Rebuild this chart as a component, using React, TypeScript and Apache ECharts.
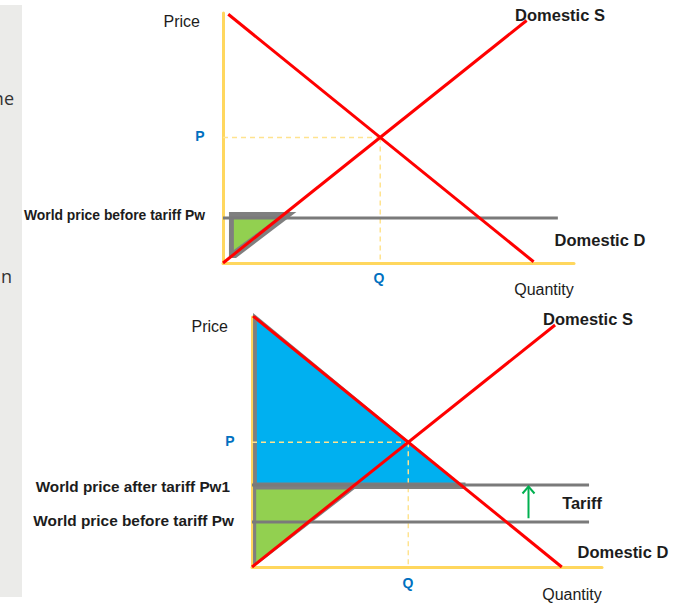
import React, { useEffect, useRef } from "react";
import * as echarts from "echarts";

// Both panels use the same 0–100 quantity / price scale.

// Upper panel: free trade at the world price
const topDemand = [[1.5, 99.5], [88.5, 0.5]];
const topSupply = [[0, 0], [86.5, 97]];
const topWorldPrice = 18;
const topWorldPriceEnd = 95.4;
const topSurplusShadow = [[1.7, 20.4], [20.9, 20.4], [3.7, 2.0], [1.7, 2.0]];
const topSurplusFill = [[3.1, 17.6], [15.1, 17.6], [3.1, 5.2]];

// Lower panel: after the tariff is imposed
const bottomDemand = [[0.3, 100.4], [88.5, 0]];
const bottomSupply = [[0, 0], [86.6, 96.8]];
const bottomWorldPrice = 18;
const bottomTariffPrice = 32.8;
const bottomPriceLineEnd = 96.3;
const consumerShadow = [[0.3, 101.6], [61.1, 31.6], [0.3, 31.6]];
const consumerFill = [[1.4, 98.4], [59.1, 33.6], [1.4, 33.6]];
const tariffBand = [[0.3, 33.8], [61, 33.8], [61, 31.2], [0.3, 31.2]];
const producerShadow = [[0.3, 31.4], [29.5, 31.4], [0.6, 0], [0.3, 0]];
const producerFill = [[1.2, 31.0], [27.7, 31.0], [1.2, 1.6]];
const tariffArrow = [[79, 19.5], [79, 32.2]];

const RED = "#ff0000";
const AXIS = "#ffd75e";
const DASH = "#ffe38f";
const GREY = "#7a7a7a";
const SHADOW = "#7f7f7f";
const BLUE_FILL = "#00b0f0";
const GREEN_FILL = "#92d050";
const LABEL_BLUE = "#0070c0";
const INK = "#1c1c1c";
const FONT = "'Liberation Sans', Arial, sans-serif";

type Pt = number[];

function intersect(a: Pt[], b: Pt[]): Pt {
  const [[x1, y1], [x2, y2]] = a;
  const [[x3, y3], [x4, y4]] = b;
  const d = (x1 - x2) * (y3 - y4) - (y1 - y2) * (x3 - x4);
  const t = ((x1 - x3) * (y3 - y4) - (y1 - y3) * (x3 - x4)) / d;
  return [x1 + t * (x2 - x1), y1 + t * (y2 - y1)];
}

function lineSeries(data: Pt[], color: string, width: number, grid: number, z: number, type: any = "solid") {
  return {
    type: "line",
    xAxisIndex: grid,
    yAxisIndex: grid,
    data,
    symbol: "none",
    silent: true,
    z,
    lineStyle: { color, width, type, cap: "butt" },
  };
}

function polygonSeries(points: Pt[], color: string, grid: number, z: number) {
  return {
    type: "custom",
    xAxisIndex: grid,
    yAxisIndex: grid,
    silent: true,
    clip: false,
    z,
    data: [points[0]],
    renderItem: (_params: any, api: any) => ({
      type: "polygon",
      shape: { points: points.map((p) => api.coord(p)) },
      style: { fill: color },
    }),
  };
}

function arrowSeries(points: Pt[], color: string, grid: number, z: number) {
  return {
    type: "custom",
    xAxisIndex: grid,
    yAxisIndex: grid,
    silent: true,
    clip: false,
    z,
    data: [points[0]],
    renderItem: (_params: any, api: any) => {
      const [x0, y0] = api.coord(points[0]);
      const [x1, y1] = api.coord(points[1]);
      return {
        type: "group",
        children: [
          {
            type: "line",
            shape: { x1: x0, y1: y0, x2: x1, y2: y1 },
            style: { stroke: color, lineWidth: 2 },
          },
          {
            type: "polyline",
            shape: { points: [[x1 - 6, y1 + 7], [x1, y1], [x1 + 6, y1 + 7]] },
            style: { stroke: color, lineWidth: 2, fill: "none" },
          },
        ],
      };
    },
  };
}

function axisPair(grid: number) {
  const common = {
    gridIndex: grid,
    type: "value",
    min: 0,
    max: 100,
    axisLine: { show: true, lineStyle: { color: AXIS, width: 3 } },
    axisTick: { show: false },
    axisLabel: { show: false },
    splitLine: { show: false },
  };
  return { x: { ...common }, y: { ...common } };
}

function text(x: number, y: number, content: string, opts: any = {}) {
  return {
    type: "text",
    x,
    y,
    silent: true,
    z: 10,
    style: {
      text: content,
      fill: opts.color || INK,
      font: `${opts.weight || "normal"} ${opts.size || 16}px ${opts.family || FONT}`,
      textAlign: opts.align || "center",
      textVerticalAlign: "middle",
    },
  };
}

export default function App() {
  const ref = useRef<HTMLDivElement>(null);

  useEffect(() => {
    if (!ref.current) return;
    const chart = echarts.init(ref.current, undefined, { renderer: "svg" });

    const topEq = intersect(topDemand, topSupply);
    const botEq = intersect(bottomDemand, bottomSupply);
    const a0 = axisPair(0);
    const a1 = axisPair(1);

    chart.setOption({
      animation: false,
      backgroundColor: "#ffffff",
      grid: [
        { left: 223, top: 13, width: 351, height: 250 },
        { left: 252, top: 317, width: 350, height: 250 },
      ],
      xAxis: [a0.x, a1.x],
      yAxis: [a0.y, a1.y],
      series: [
        // upper panel
        polygonSeries(topSurplusShadow, SHADOW, 0, 1),
        polygonSeries(topSurplusFill, GREEN_FILL, 0, 2),
        lineSeries([[0, topEq[1]], topEq], DASH, 1.5, 0, 3, [5, 4]),
        lineSeries([topEq, [topEq[0], 0]], DASH, 1.5, 0, 3, [5, 4]),
        lineSeries([[0, topWorldPrice], [topWorldPriceEnd, topWorldPrice]], GREY, 3, 0, 4),
        lineSeries(topDemand, RED, 3, 0, 6),
        lineSeries(topSupply, RED, 3, 0, 6),

        // lower panel
        polygonSeries(consumerShadow, SHADOW, 1, 1),
        polygonSeries(consumerFill, BLUE_FILL, 1, 2),
        polygonSeries(producerShadow, SHADOW, 1, 1),
        polygonSeries(producerFill, GREEN_FILL, 1, 2),
        lineSeries([[0, botEq[1]], botEq], DASH, 1.5, 1, 3, [5, 4]),
        lineSeries([botEq, [botEq[0], 0]], DASH, 1.5, 1, 3, [5, 4]),
        polygonSeries(tariffBand, SHADOW, 1, 4),
        lineSeries([[0, bottomTariffPrice], [bottomPriceLineEnd, bottomTariffPrice]], GREY, 3, 1, 4),
        lineSeries([[0, bottomWorldPrice], [bottomPriceLineEnd, bottomWorldPrice]], GREY, 3, 1, 4),
        arrowSeries(tariffArrow, "#00b050", 1, 5),
        lineSeries(bottomDemand, RED, 3, 1, 6),
        lineSeries(bottomSupply, RED, 3, 1, 6),
      ],
      graphic: [
        // side panel of the surrounding page
        {
          type: "rect",
          silent: true,
          z: 0,
          shape: { x: 0, y: 5, width: 22, height: 592 },
          style: { fill: "#ebebe9" },
        },
        text(14, 98, "ne", { align: "right", size: 18, color: "#333", family: "'Open Sans', sans-serif" }),
        text(12, 276, "n", { align: "right", size: 18, color: "#333", family: "'Open Sans', sans-serif" }),

        // upper panel labels
        text(200, 21, "Price", { align: "right" }),
        text(200, 136, "P", { weight: "bold", size: 14, color: LABEL_BLUE }),
        text(205, 215, "World price before tariff Pw", { align: "right", weight: "bold", size: 13.9 }),
        text(379, 278, "Q", { weight: "bold", size: 14, color: LABEL_BLUE }),
        text(544, 289, "Quantity"),
        text(560, 15, "Domestic S", { weight: "bold", size: 16.5 }),
        text(600, 240, "Domestic D", { weight: "bold", size: 16.5 }),

        // lower panel labels
        text(228, 326, "Price", { align: "right" }),
        text(230, 441, "P", { weight: "bold", size: 14, color: LABEL_BLUE }),
        text(230, 486, "World price after tariff Pw1", { align: "right", weight: "bold", size: 15.3 }),
        text(234, 520, "World price before tariff Pw", { align: "right", weight: "bold", size: 15.4 }),
        text(408, 583, "Q", { weight: "bold", size: 14, color: LABEL_BLUE }),
        text(572, 594, "Quantity"),
        text(588, 319, "Domestic S", { weight: "bold", size: 16.5 }),
        text(623, 552, "Domestic D", { weight: "bold", size: 16.5 }),
        text(582, 503, "Tariff", { weight: "bold", size: 16.4 }),
      ],
    });

    return () => chart.dispose();
  }, []);

  return (
    <div
      ref={ref}
      style={{ position: "fixed", left: 0, top: 0, width: 682, height: 603 }}
    />
  );
}
